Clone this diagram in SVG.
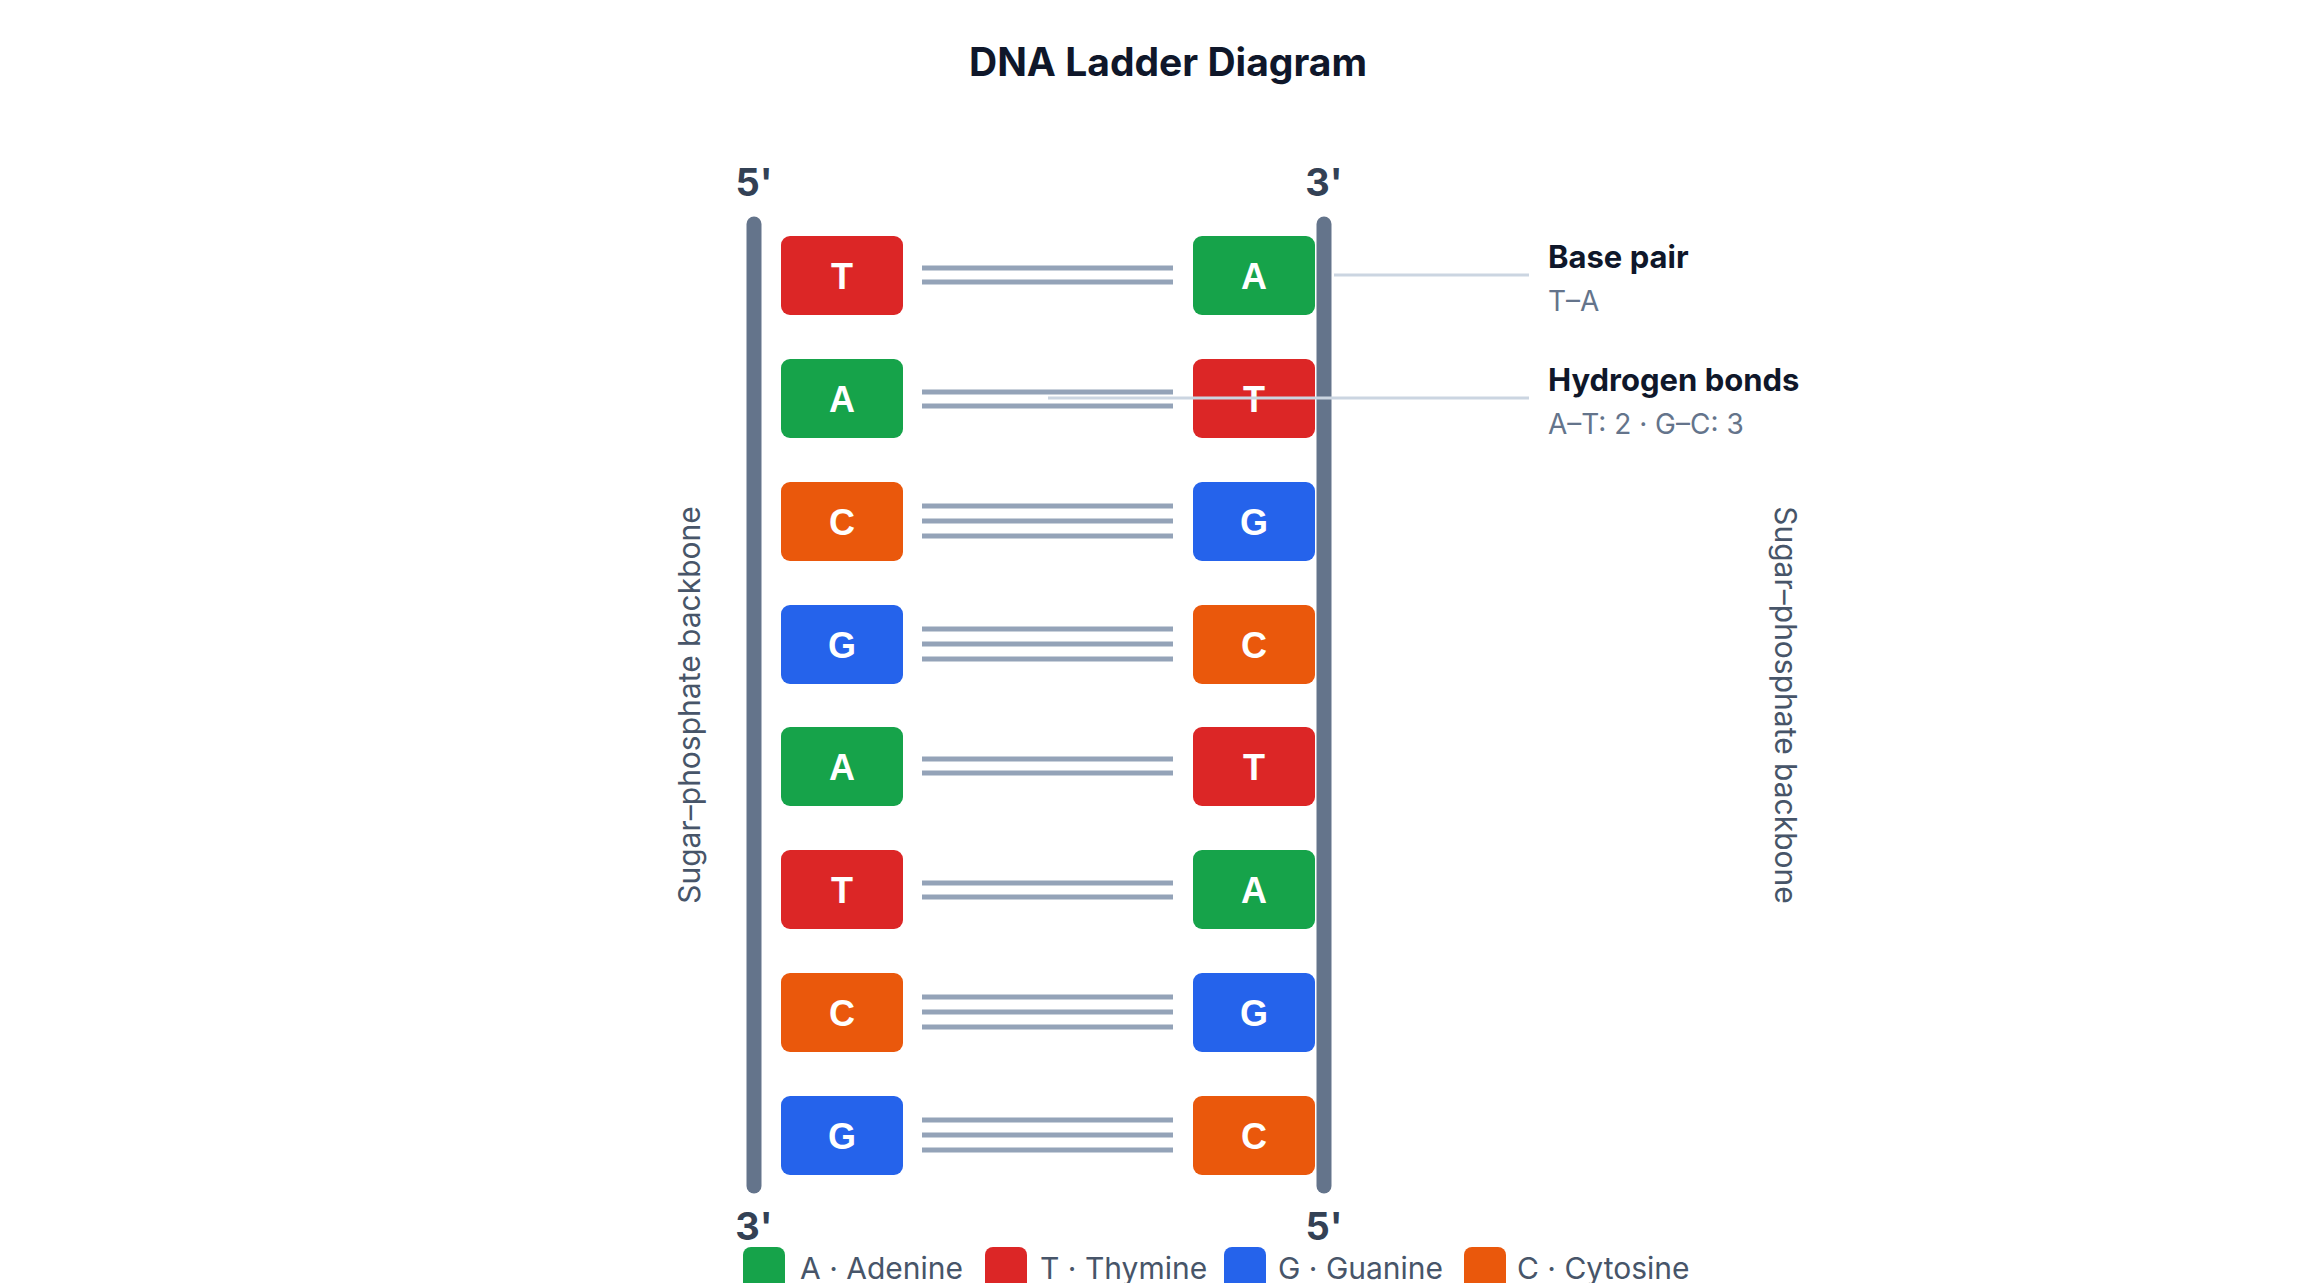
<svg xmlns="http://www.w3.org/2000/svg" width="2322" height="1283" viewBox="0 0 2322 1283">
<style>
text{font-family:Inter,"Liberation Sans",sans-serif}
.bb{stroke:#64748b;stroke-width:15;stroke-linecap:round}
.bond{stroke:#94a3b8;stroke-width:5}
.lead{stroke:#cbd5e1;stroke-width:3}
.base{font-weight:700;font-size:36px;fill:#fff;text-anchor:middle;dominant-baseline:central;font-family:"Liberation Sans",sans-serif}
.end{font-weight:700;font-size:38px;fill:#334155;text-anchor:middle}
.side{font-size:30px;fill:#475569;text-anchor:middle}
.h{font-weight:700;font-size:31px;fill:#0f172a}
.s{font-size:28px;fill:#64748b}
.lg{font-size:30px;fill:#475569}
.A{fill:#16a34a}.T{fill:#dc2626}.G{fill:#2563eb}.C{fill:#ea580c}
</style>
<rect width="2322" height="1283" fill="#fff"/>
<g transform="translate(-5,0)">
<text x="1173" y="76" text-anchor="middle" font-size="39" font-weight="700" fill="#0f172a">DNA Ladder Diagram</text>
<g id="backbones">
<line class="bb" x1="759" y1="224" x2="759" y2="1186"/>
<line class="bb" x1="1329" y1="224" x2="1329" y2="1186"/>
</g>
<text class="end" x="759" y="196">5'</text>
<text class="end" x="1329" y="196">3'</text>
<text class="end" x="759" y="1240">3'</text>
<text class="end" x="1329" y="1240">5'</text>
<text class="side" transform="translate(705,705) rotate(-90)">Sugar–phosphate backbone</text>
<text class="side" transform="translate(1780,705) rotate(90)">Sugar–phosphate backbone</text>
<g id="connectors">
<line class="bond" x1="927" y1="268" x2="1178" y2="268"/><line class="bond" x1="927" y1="282" x2="1178" y2="282"/>
<line class="bond" x1="927" y1="392" x2="1178" y2="392"/><line class="bond" x1="927" y1="406" x2="1178" y2="406"/>
<line class="bond" x1="927" y1="506" x2="1178" y2="506"/><line class="bond" x1="927" y1="521" x2="1178" y2="521"/><line class="bond" x1="927" y1="536" x2="1178" y2="536"/>
<line class="bond" x1="927" y1="629" x2="1178" y2="629"/><line class="bond" x1="927" y1="644" x2="1178" y2="644"/><line class="bond" x1="927" y1="659" x2="1178" y2="659"/>
<line class="bond" x1="927" y1="759" x2="1178" y2="759"/><line class="bond" x1="927" y1="773" x2="1178" y2="773"/>
<line class="bond" x1="927" y1="883" x2="1178" y2="883"/><line class="bond" x1="927" y1="897" x2="1178" y2="897"/>
<line class="bond" x1="927" y1="997" x2="1178" y2="997"/><line class="bond" x1="927" y1="1012" x2="1178" y2="1012"/><line class="bond" x1="927" y1="1027" x2="1178" y2="1027"/>
<line class="bond" x1="927" y1="1120" x2="1178" y2="1120"/><line class="bond" x1="927" y1="1135" x2="1178" y2="1135"/><line class="bond" x1="927" y1="1150" x2="1178" y2="1150"/>
</g>
<g id="r1"><rect class="T" x="786" y="236" width="122" height="79" rx="9"/><text class="base" x="847" y="276">T</text><rect class="A" x="1198" y="236" width="122" height="79" rx="9"/><text class="base" x="1259" y="276">A</text></g>
<g id="r2"><rect class="A" x="786" y="359" width="122" height="79" rx="9"/><text class="base" x="847" y="399">A</text><rect class="T" x="1198" y="359" width="122" height="79" rx="9"/><text class="base" x="1259" y="399">T</text></g>
<g id="r3"><rect class="C" x="786" y="482" width="122" height="79" rx="9"/><text class="base" x="847" y="522">C</text><rect class="G" x="1198" y="482" width="122" height="79" rx="9"/><text class="base" x="1259" y="522">G</text></g>
<g id="r4"><rect class="G" x="786" y="605" width="122" height="79" rx="9"/><text class="base" x="847" y="645">G</text><rect class="C" x="1198" y="605" width="122" height="79" rx="9"/><text class="base" x="1259" y="645">C</text></g>
<g id="r5"><rect class="A" x="786" y="727" width="122" height="79" rx="9"/><text class="base" x="847" y="767">A</text><rect class="T" x="1198" y="727" width="122" height="79" rx="9"/><text class="base" x="1259" y="767">T</text></g>
<g id="r6"><rect class="T" x="786" y="850" width="122" height="79" rx="9"/><text class="base" x="847" y="890">T</text><rect class="A" x="1198" y="850" width="122" height="79" rx="9"/><text class="base" x="1259" y="890">A</text></g>
<g id="r7"><rect class="C" x="786" y="973" width="122" height="79" rx="9"/><text class="base" x="847" y="1013">C</text><rect class="G" x="1198" y="973" width="122" height="79" rx="9"/><text class="base" x="1259" y="1013">G</text></g>
<g id="r8"><rect class="G" x="786" y="1096" width="122" height="79" rx="9"/><text class="base" x="847" y="1136">G</text><rect class="C" x="1198" y="1096" width="122" height="79" rx="9"/><text class="base" x="1259" y="1136">C</text></g>
<g id="leaders">
<line class="lead" x1="1339" y1="275" x2="1534" y2="275"/>
<line class="lead" x1="1053" y1="398" x2="1534" y2="398"/>
</g>
<g id="callout1"><text class="h" x="1553" y="268">Base pair</text><text class="s" x="1553" y="311">T–A</text></g>
<g id="callout2"><text class="h" x="1553" y="391">Hydrogen bonds</text><text class="s" x="1553" y="434">A–T: 2 · G–C: 3</text></g>
<g id="legend">
<rect class="A" x="748" y="1247" width="42" height="50" rx="8"/><text class="lg" x="805" y="1279">A · Adenine</text>
<rect class="T" x="990" y="1247" width="42" height="50" rx="8"/><text class="lg" x="1045" y="1279">T · Thymine</text>
<rect class="G" x="1229" y="1247" width="42" height="50" rx="8"/><text class="lg" x="1283" y="1279">G · Guanine</text>
<rect class="C" x="1469" y="1247" width="42" height="50" rx="8"/><text class="lg" x="1522" y="1279">C · Cytosine</text>
</g>
</g>
</svg>
